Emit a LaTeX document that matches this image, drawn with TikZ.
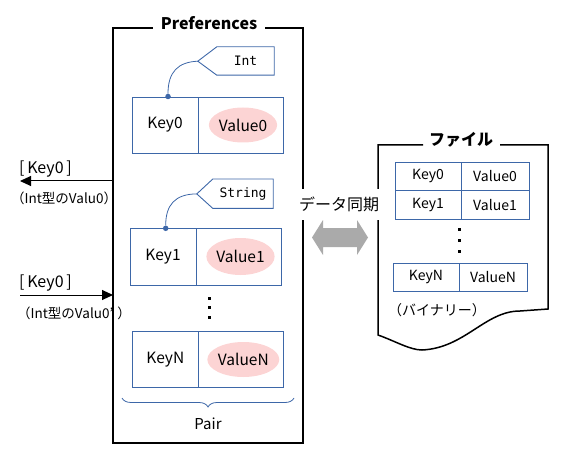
\documentclass[tikz,border=0pt]{standalone}
\usepackage{fontspec}
\setmainfont{Noto Sans CJK JP}
\newfontfamily\tagfont{DejaVu Sans Mono}
\usetikzlibrary{arrows.meta,shapes.geometric,decorations.pathreplacing,positioning}
\definecolor{cellblue}{RGB}{61,103,168}
\definecolor{valpink}{RGB}{252,212,212}
\definecolor{syncgray}{RGB}{170,170,170}

\begin{document}
\begin{tikzpicture}[x=1pt,y=-1pt,>={Triangle[length=11pt,width=10pt]},
  frame/.style={draw=black,line width=1.5pt},
  title/.style={fill=white,inner xsep=6pt,inner ysep=1pt,anchor=base,font=\fontsize{16}{18}\selectfont\bfseries},
  keycell/.style={draw=cellblue,line width=0.9pt,minimum width=66pt,minimum height=56pt,inner sep=0pt,outer sep=0pt,font=\fontsize{15.5}{18}\selectfont},
  valcell/.style={keycell,minimum width=85pt},
  valoval/.style={ellipse,fill=valpink,minimum width=66pt,minimum height=35pt,inner sep=0pt,font=\fontsize{15.5}{18}\selectfont},
  tagbox/.style={inner sep=0pt,minimum height=28pt,font=\tagfont\fontsize{13}{15}\selectfont},
  tagline/.style={draw=cellblue,line width=0.9pt},
  dot/.style={circle,fill=cellblue,inner sep=0pt,minimum size=5.5pt},
  link/.style={draw=cellblue,line width=0.8pt},
  keyarrow/.style={->,line width=1pt},
  note/.style={inner sep=0pt,anchor=base west},
  filecell/.style={draw=cellblue,line width=0.9pt,minimum width=66pt,minimum height=28.5pt,inner sep=0pt,outer sep=0pt,font=\fontsize{14}{16}\selectfont},
  filevalcell/.style={filecell,minimum width=68pt},
  ]
\useasboundingbox (0,0) rectangle (567,473);

% Preferences
\draw[frame] (113,28) rectangle (303,443);
\node[title,minimum width=112pt] (preftitle) at (209,30) {Preferences};

\node[keycell] (k0) at (165,125) {Key0};
\node[valcell,right=0pt of k0] (v0) {};
\node[valoval,xshift=2.5pt] (o0) at (v0) {Value0};

\node[keycell,minimum height=57pt] (k1) at (163,256.5) {Key1};
\node[valcell,minimum height=57pt,right=0pt of k1] (v1) {};
\node[valoval,minimum height=37pt,xshift=2pt] (o1) at (v1) {Value1};

\node[keycell] (kn) at (165.3,359.5) {KeyN};
\node[valcell,right=0pt of kn] (vn) {};
\node[valoval,xshift=2.5pt] (on) at (vn) {ValueN};

\foreach \y in {298,307.5,317}
  \fill (207.5,\y-1.5) rectangle ++(3,3);

% type tags
\node[tagbox,minimum width=57pt] (t0) at (245.5,61) {Int};
\draw[tagline] (t0.north west) -- (t0.north east) -- (t0.south east) -- (t0.south west) -- ++(-19,-14) coordinate (t0tip) -- cycle;
\node[tagbox,minimum width=60pt,minimum height=29pt] (t1) at (243,193.7) {String};
\draw[tagline] (t1.north west) -- (t1.north east) -- (t1.south east) -- (t1.south west) -- ++(-16,-14.5) coordinate (t1tip) -- cycle;

\node[dot] (d0) at (168,96.5) {};
\node[dot] (d1) at (165.7,228.3) {};
\draw[link] (d0) .. controls (168,72) and (178,62) .. (t0tip);
\draw[link] (d1) .. controls (165.7,205) and (175,194) .. (t1tip);

% Pair
\draw[cellblue,line width=0.8pt,decorate,decoration={brace,mirror,amplitude=9pt}] (122,398) -- (294,398);
\node[anchor=base,inner sep=0pt,font=\fontsize{15}{18}\selectfont] (pair) at (208,429) {Pair};

% get / put
\coordinate (e0) at (113,181);
\coordinate (o0end) at (20,181);
\draw[keyarrow] (e0) -- (o0end);
\node[note,font=\fontsize{16}{18}\selectfont] (key0a) at (19,174) {[\,Key0\,]};
\node[note,font=\fontsize{13.5}{16}\selectfont] (val0a) at (11,204) {（Int型のValu0）};

\coordinate (i1) at (20,295);
\coordinate (e1) at (113,295);
\draw[keyarrow] (i1) -- (e1);
\node[note,font=\fontsize{16}{18}\selectfont] (key0b) at (19,287) {[\,Key0\,]};
\node[note,font=\fontsize{13.5}{16}\selectfont] (val0b) at (17,318) {（Int型のValu0’\hspace{4pt}）};

% file
\draw[frame] (423,145) -- (378,145) -- (378,335) .. controls (395,341) and (410,350) .. (422,350)
  .. controls (465,348) and (485,311) .. (520,311) -- (548,309) -- (548,145) -- (500,145);
\node[title,fill=none] (filetitle) at (461,146) {ファイル};

\node[filecell] (fk0) at (428,176.5) {Key0};
\node[filevalcell,right=0pt of fk0] (fv0) {Value0};
\node[filecell,below=0pt of fk0] (fk1) {Key1};
\node[filevalcell,right=0pt of fk1] (fv1) {Value1};
\foreach \y in {229,240,251}
  \fill (457.5,\y-1.5) rectangle ++(3,3);
\node[filecell] (fkn) at (426,277.5) {KeyN};
\node[filevalcell,right=0pt of fkn] (fvn) {ValueN};
\node[note,font=\fontsize{14}{16}\selectfont] (binary) at (388,315) {（バイナリー）};

% sync
\node[fill=white,inner xsep=3pt,inner ysep=8pt,anchor=base,font=\fontsize{16}{18}\selectfont] (sync) at (339,211) {データ同期};
\fill[syncgray] (312,237.5) -- (323,220) -- (323,228) -- (357,228) -- (357,220) -- (368,237.5) -- (357,255) -- (357,247) -- (323,247) -- (323,255) -- cycle;
\end{tikzpicture}
\end{document}
